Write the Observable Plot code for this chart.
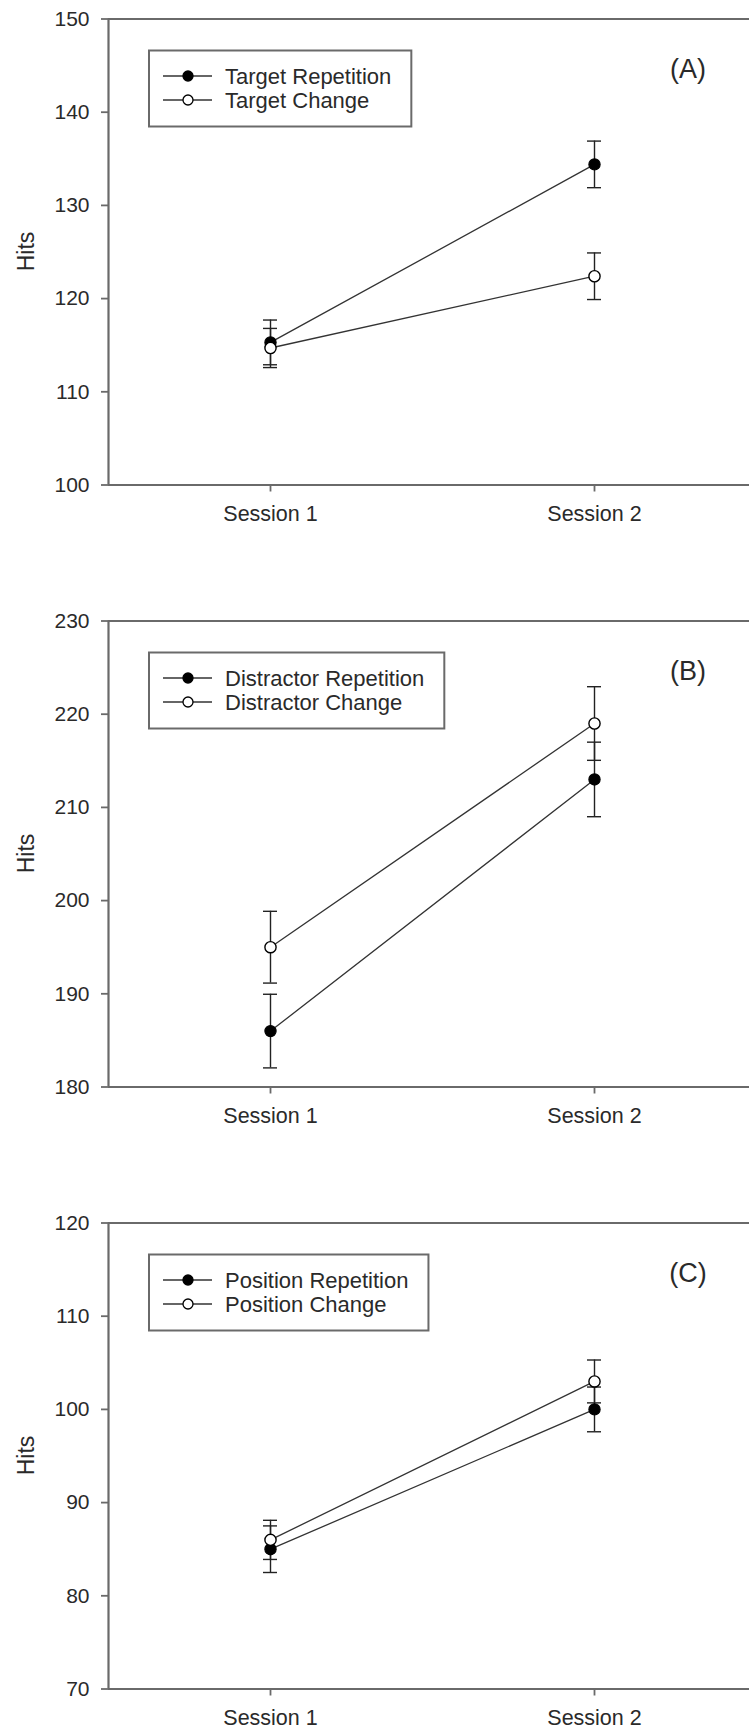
<!DOCTYPE html>
<html>
<head>
<meta charset="utf-8">
<script src="https://cdn.jsdelivr.net/npm/d3@7"></script>
<script src="https://cdn.jsdelivr.net/npm/@observablehq/plot@0.6"></script>
<style>
  html, body { margin: 0; padding: 0; background: #fff; }
  .panel { display: block; line-height: 0; }
</style>
</head>
<body>
<div id="chart"></div>
<script>
// ---- Data ----
const sessions = ["Session 1", "Session 2"];
const sessionIdx = [1, 2];

// Panel A
const aLabels = ["Target Repetition", "Target Change"];
const aRepMean = [115.3, 134.4];
const aRepSE = [2.4, 2.5];
const aChgMean = [114.7, 122.4];
const aChgSE = [2.1, 2.5];
const aTicks = [100, 110, 120, 130, 140, 150];

// Panel B
const bLabels = ["Distractor Repetition", "Distractor Change"];
const bRepMean = [186.0, 213.0];
const bRepSE = [3.95, 4.0];
const bChgMean = [195.0, 219.0];
const bChgSE = [3.85, 3.95];
const bTicks = [180, 190, 200, 210, 220, 230];

// Panel C
const cLabels = ["Position Repetition", "Position Change"];
const cRepMean = [85.0, 100.0];
const cRepSE = [2.5, 2.4];
const cChgMean = [86.0, 103.0];
const cChgSE = [2.1, 2.3];
const cTicks = [70, 80, 90, 100, 110, 120];

const panelTags = ["(A)", "(B)", "(C)"];
const yLabel = "Hits";

// ---- Layout ----
const W = 749;
const FONT = "'Liberation Sans', Arial, Helvetica, sans-serif";
const MT = 18.5, PH = 466, ML = 108;
const xDomain = [0.5, 0.5 + (W - ML) / 324];

function makePanel(tag, labels, repMean, repSE, chgMean, chgSE, ticks, height) {
  const yDomain = [ticks[0], ticks[ticks.length - 1]];
  const rows = [];
  [[repMean, repSE], [chgMean, chgSE]].forEach(([m, se], s) => {
    sessionIdx.forEach((x, i) => {
      rows.push({series: s, x, y: m[i], lo: m[i] - se[i], hi: m[i] + se[i]});
    });
  });
  const frameColor = "#6a6a6a";
  const ink = "#2a2a2a";
  const plot = Plot.plot({
    width: W,
    height,
    marginTop: MT,
    marginLeft: ML,
    marginRight: 0,
    marginBottom: height - MT - PH,
    x: {domain: xDomain},
    y: {domain: yDomain},
    style: {fontFamily: FONT, color: ink, background: "#fff", overflow: "visible"},
    marks: [
      Plot.ruleY(yDomain, {stroke: frameColor, strokeWidth: 2.2}),
      Plot.ruleX([xDomain[0]], {stroke: frameColor, strokeWidth: 2.2}),
      Plot.axisY(ticks, {tickSize: 7, tickPadding: 12, fontSize: 21, label: null, stroke: frameColor, strokeWidth: 1.8, fill: ink}),
      Plot.axisX(sessionIdx, {tickSize: 7, tickPadding: 14, fontSize: 21.5, label: null, tickFormat: i => sessions[i - 1], stroke: frameColor, strokeWidth: 1.8, fill: ink}),
      Plot.line(rows, {x: "x", y: "y", z: "series", stroke: "#333", strokeWidth: 1.3}),
      Plot.ruleX(rows, {x: "x", y1: "lo", y2: "hi", stroke: "#222", strokeWidth: 1.4}),
      Plot.ruleY(rows, {y: "lo", x1: "x", x2: "x", insetLeft: -7, insetRight: -7, stroke: "#222", strokeWidth: 1.4}),
      Plot.ruleY(rows, {y: "hi", x1: "x", x2: "x", insetLeft: -7, insetRight: -7, stroke: "#222", strokeWidth: 1.4}),
      Plot.dot(rows.filter(d => d.series === 0), {x: "x", y: "y", r: 5.6, fill: "#000", stroke: "#000", strokeWidth: 1.2}),
      Plot.dot(rows.filter(d => d.series === 1), {x: "x", y: "y", r: 5.6, fill: "#fff", stroke: "#000", strokeWidth: 1.4})
    ]
  });
  const div = document.createElement("div");
  div.className = "panel";
  div.appendChild(plot);
  document.getElementById("chart").appendChild(div);

  const svg = d3.select(plot);
  // y label
  svg.append("text")
    .attr("transform", `translate(26,${MT + PH / 2}) rotate(-90)`)
    .attr("text-anchor", "middle").attr("dy", "0.35em")
    .attr("font-size", 23).attr("fill", ink).attr("font-family", FONT)
    .text(yLabel);
  // panel tag
  svg.append("text")
    .attr("x", 688).attr("y", MT + 50)
    .attr("text-anchor", "middle").attr("dy", "0.35em")
    .attr("font-size", 27).attr("fill", ink).attr("font-family", FONT)
    .text(tag);
  // legend
  const lg = svg.append("g");
  const boxX = 149, boxY = MT + 32, boxH = 76;
  const rect = lg.append("rect").attr("x", boxX).attr("y", boxY).attr("height", boxH)
    .attr("fill", "#fff").attr("stroke", frameColor).attr("stroke-width", 2);
  let maxEnd = 0;
  labels.forEach((lab, k) => {
    const cy = boxY + 25.5 + k * 24;
    lg.append("line").attr("x1", 163).attr("x2", 212).attr("y1", cy).attr("y2", cy)
      .attr("stroke", "#333").attr("stroke-width", 1.3);
    lg.append("circle").attr("cx", 188).attr("cy", cy).attr("r", 5)
      .attr("fill", k === 0 ? "#000" : "#fff").attr("stroke", "#000").attr("stroke-width", 1.3);
    const t = lg.append("text").attr("x", 225).attr("y", cy).attr("dy", "0.35em")
      .attr("text-anchor", "start")
      .attr("font-size", 22).attr("fill", ink).attr("font-family", FONT).text(lab);
    maxEnd = Math.max(maxEnd, 225 + t.node().getComputedTextLength());
  });
  rect.attr("width", maxEnd + 20 - boxX);
}

makePanel(panelTags[0], aLabels, aRepMean, aRepSE, aChgMean, aChgSE, aTicks, 602);
makePanel(panelTags[1], bLabels, bRepMean, bRepSE, bChgMean, bChgSE, bTicks, 602);
makePanel(panelTags[2], cLabels, cRepMean, cRepSE, cChgMean, cChgSE, cTicks, 529);
</script>
</body>
</html>
